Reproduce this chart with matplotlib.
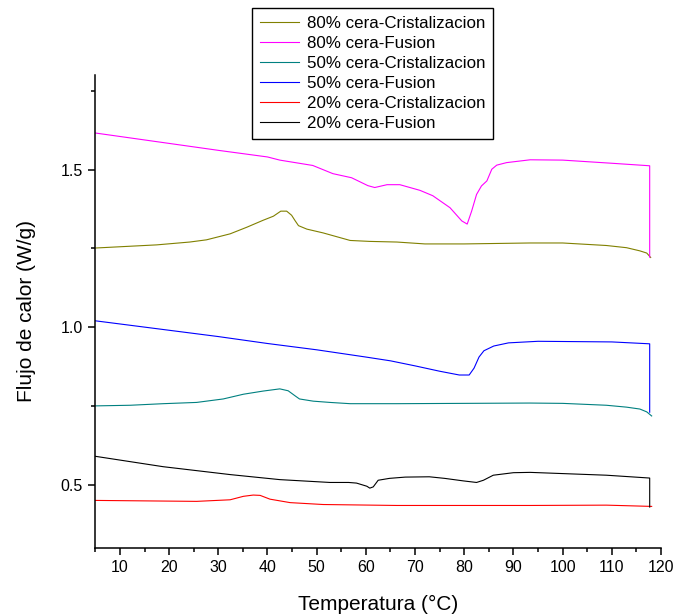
import matplotlib
matplotlib.use('Agg')
import matplotlib.pyplot as plt
from matplotlib.ticker import MultipleLocator, FormatStrFormatter

plt.rcParams['font.family'] = ['Liberation Sans', 'DejaVu Sans']

# 80% cera
T_80c = [5, 17.5, 24.2, 27.6, 32.4, 35.8, 39.1, 41.2, 42.7, 43.9, 44.9, 45.6, 46.3, 48.0, 51.3,
         56.8, 60.8, 66.3, 72, 80, 93.4, 100, 108.9, 113, 115.7, 117.1, 117.9]
F_80c = [1.251, 1.261, 1.270, 1.277, 1.296, 1.317, 1.339, 1.352, 1.368, 1.368, 1.355, 1.338, 1.322,
         1.311, 1.299, 1.275, 1.272, 1.270, 1.264, 1.264, 1.267, 1.267, 1.259, 1.252, 1.242, 1.235, 1.221]
T_80f = [5, 10, 20, 30, 40, 42.5, 49.2, 53.3, 57.1, 60.4, 61.8, 64.3, 66.9, 71.0, 73.6, 77.1, 79.5,
         80.6, 81.5, 82.5, 83.5, 84.6, 85.6, 86.6, 88.6, 93.4, 100, 110, 117.7, 117.7]
F_80f = [1.616, 1.605, 1.583, 1.561, 1.54, 1.530, 1.513, 1.487, 1.474, 1.449, 1.443, 1.452, 1.452,
         1.434, 1.417, 1.379, 1.337, 1.327, 1.368, 1.421, 1.448, 1.464, 1.501, 1.514, 1.522, 1.531,
         1.530, 1.520, 1.512, 1.222]

# 50% cera
T_50c = [5, 12.1, 18.8, 25.6, 31.0, 35.1, 39.1, 42.5, 44.2, 45.6, 46.5, 49.3, 52.7, 56.8, 66.3, 80,
         93.3, 100, 108.9, 113, 115.7, 117.1, 118.1]
F_50c = [0.750, 0.752, 0.757, 0.761, 0.772, 0.787, 0.797, 0.804, 0.798, 0.782, 0.772, 0.765, 0.761,
         0.757, 0.757, 0.758, 0.759, 0.758, 0.752, 0.746, 0.740, 0.731, 0.718]
T_50f = [5, 10, 20, 30, 40, 50, 60, 65, 70, 75, 79, 81, 82, 83, 84, 86, 89, 95, 110, 117.7, 117.7]
F_50f = [1.020, 1.010, 0.990, 0.970, 0.948, 0.928, 0.905, 0.893, 0.877, 0.860, 0.848, 0.848, 0.870,
         0.905, 0.925, 0.940, 0.950, 0.955, 0.953, 0.947, 0.730]

# 20% cera
T_20c = [5, 25.6, 32.4, 35.1, 37.1, 38.5, 40.5, 44.6, 51.3, 66.3, 93.4, 108.9, 118.1]
F_20c = [0.450, 0.447, 0.452, 0.463, 0.467, 0.466, 0.454, 0.443, 0.437, 0.434, 0.434, 0.435, 0.431]
T_20f = [5, 18.8, 32.4, 42.5, 52.7, 56.5, 58.1, 60.2, 60.8, 61.5, 62.5, 64.8, 68, 72.9, 76, 79.8,
         82.5, 83.9, 85.9, 90.0, 93.4, 108.9, 117.7, 117.7]
F_20f = [0.590, 0.557, 0.532, 0.516, 0.507, 0.507, 0.505, 0.495, 0.489, 0.493, 0.514, 0.520, 0.524,
         0.525, 0.520, 0.512, 0.507, 0.514, 0.530, 0.538, 0.539, 0.530, 0.521, 0.429]

series = [
    (T_80c, F_80c, '#808000', '80% cera-Cristalizacion'),
    (T_80f, F_80f, '#FF00FF', '80% cera-Fusion'),
    (T_50c, F_50c, '#008080', '50% cera-Cristalizacion'),
    (T_50f, F_50f, '#0000FF', '50% cera-Fusion'),
    (T_20c, F_20c, '#FF0000', '20% cera-Cristalizacion'),
    (T_20f, F_20f, '#000000', '20% cera-Fusion'),
]

fig = plt.figure(figsize=(6.79, 6.16), dpi=100)
ax = fig.add_axes([0.1404, 0.1109, 0.8331, 0.7673])

for t, f, c, lab in series:
    ax.plot(t, f, color=c, lw=0.8, label=lab)

ax.set_xlim(5, 120)
ax.set_ylim(0.3, 1.8)
ax.xaxis.set_major_locator(MultipleLocator(10))
ax.xaxis.set_minor_locator(MultipleLocator(5))
ax.yaxis.set_major_locator(MultipleLocator(0.5))
ax.yaxis.set_minor_locator(MultipleLocator(0.25))
ax.yaxis.set_major_formatter(FormatStrFormatter('%.1f'))

ax.spines['top'].set_visible(False)
ax.spines['right'].set_visible(False)
for s in ('left', 'bottom'):
    ax.spines[s].set_linewidth(1.1)
ax.tick_params(which='major', direction='out', length=5, width=1.1, labelsize=11.5, pad=4)
ax.tick_params(which='minor', direction='out', length=3, width=1.1)

ax.set_xlabel('Temperatura (°C)', fontsize=15, labelpad=14)
ax.set_ylabel('Flujo de calor (W/g)', fontsize=15, labelpad=18)

leg = ax.legend(loc='upper left', bbox_to_anchor=(0.371, 0.987), bbox_transform=fig.transFigure,
                fontsize=12.2, frameon=True, fancybox=False, borderpad=0.45, labelspacing=0.3,
                handlelength=2.3, handletextpad=0.5, borderaxespad=0)
leg.get_frame().set_edgecolor('black')
leg.get_frame().set_linewidth(1.0)
leg.get_frame().set_alpha(1)

fig.savefig('out.png', dpi=100)
